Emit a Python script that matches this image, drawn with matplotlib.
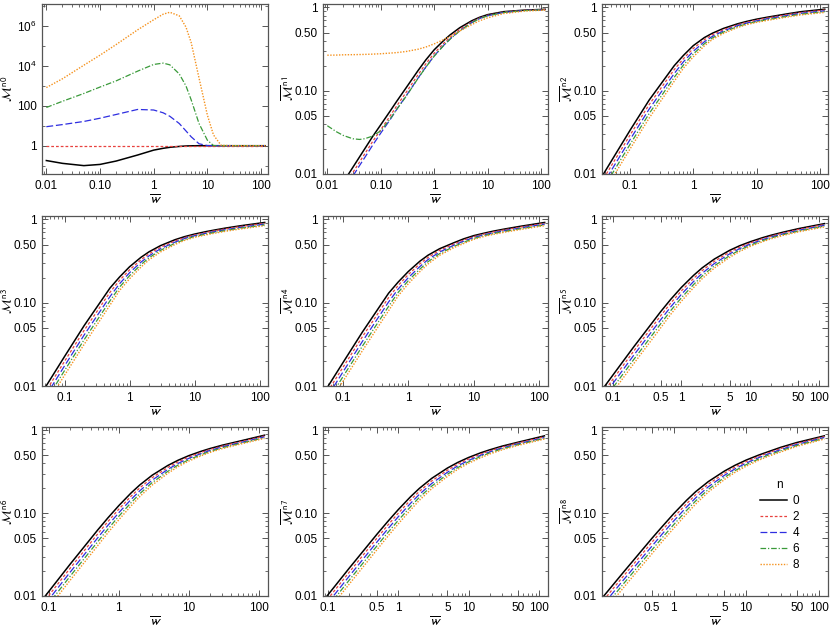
import numpy as np
import matplotlib.pyplot as plt
from matplotlib.ticker import FixedLocator, FixedFormatter, NullFormatter

plt.rcParams['font.family'] = ['Liberation Sans', 'DejaVu Sans']
plt.rcParams['mathtext.fontset'] = 'stixsans'

# legend values of n and line styles
n_values = [0, 2, 4, 6, 8]
colors = ['#000000', '#e8413f', '#2e2ee0', '#3a9a3a', '#f5921e']
dash_styles = [None, (2.2, 1.6), (5.5, 2.2), (4.5, 1.5, 1.0, 1.5), (1.0, 1.1)]
line_widths = [1.1, 0.9, 0.9, 0.9, 1.0]

# panel n0 (own grid)
w0 = [0.01, 0.02, 0.05, 0.1, 0.2, 0.5, 1, 1.5, 2, 3, 4, 5, 7, 10, 13, 18, 30, 120]
m0 = [
    [0.18, 0.13, 0.10, 0.115, 0.17, 0.34, 0.6, 0.74, 0.83, 0.92, 0.97, 0.99, 1, 1, 1, 1, 1, 1],
    [1, 1, 1, 1, 1, 1, 1, 1, 1, 1, 1, 1, 1, 1, 1, 1, 1, 1],
    [9, 11.5, 16.5, 24, 37, 66, 62, 45, 30, 13, 5.5, 2.8, 1.25, 1.02, 1, 1, 1, 1],
    [83, 170, 420, 880, 1800, 5500, 12000, 14000, 11500, 4000, 1000, 200, 13, 1.9, 1.02, 1, 1, 1],
    [830, 2300, 11000, 35000, 1.2e5, 6.5e5, 2.1e6, 4e6, 5e6, 3.3e6, 9e5, 1.5e5, 2500, 35, 3.5, 1.05, 1, 1],
]

# panel n1 (own grid)
w1 = [0.01, 0.015, 0.02, 0.03, 0.04, 0.05, 0.07, 0.1, 0.15, 0.2, 0.3, 0.5, 0.7,
      1, 1.5, 2, 3, 5, 7, 10, 20, 50, 120]
m1 = [
    [0.004, 0.006, 0.008, 0.012, 0.016, 0.02, 0.028, 0.039, 0.057, 0.075, 0.109, 0.175,
     0.235, 0.31, 0.40, 0.47, 0.57, 0.69, 0.76, 0.82, 0.89, 0.93, 0.95],
    [0.0035, 0.0052, 0.007, 0.0104, 0.0139, 0.0174, 0.0244, 0.034, 0.05, 0.066, 0.096, 0.156,
     0.211, 0.282, 0.37, 0.44, 0.545, 0.67, 0.745, 0.805, 0.88, 0.925, 0.945],
    [0.0031, 0.0047, 0.0063, 0.0094, 0.0126, 0.0157, 0.022, 0.031, 0.045, 0.06, 0.087, 0.142,
     0.193, 0.262, 0.35, 0.42, 0.525, 0.655, 0.735, 0.795, 0.872, 0.92, 0.94],
    [0.038, 0.032, 0.029, 0.0265, 0.026, 0.0265, 0.0285, 0.033, 0.046, 0.06, 0.086, 0.141,
     0.192, 0.26, 0.348, 0.418, 0.522, 0.652, 0.732, 0.792, 0.87, 0.918, 0.938],
    [0.267, 0.268, 0.27, 0.271, 0.272, 0.273, 0.275, 0.278, 0.283, 0.287, 0.296, 0.315,
     0.335, 0.365, 0.41, 0.45, 0.52, 0.62, 0.69, 0.75, 0.845, 0.905, 0.93],
]

# common grid for panels n2..n8
w = [0.01, 0.02, 0.05, 0.1, 0.2, 0.5, 0.7, 1, 1.5, 2, 3, 5, 7, 10, 15, 20, 30, 50, 120]
m2 = [
    [0.0019, 0.0045, 0.0141, 0.0335, 0.077, 0.2, 0.266, 0.348, 0.435, 0.49, 0.56, 0.636, 0.68, 0.723, 0.765, 0.794, 0.836, 0.889, 0.953],
    [0.00167, 0.00395, 0.01238, 0.0294, 0.068, 0.1796, 0.243, 0.322, 0.411, 0.469, 0.541, 0.619, 0.665, 0.707, 0.748, 0.777, 0.818, 0.869, 0.932],
    [0.00147, 0.00347, 0.01089, 0.0259, 0.060, 0.161, 0.223, 0.298, 0.388, 0.449, 0.523, 0.604, 0.649, 0.690, 0.731, 0.758, 0.798, 0.849, 0.910],
    [0.00129, 0.00305, 0.00956, 0.0227, 0.053, 0.145, 0.204, 0.276, 0.367, 0.430, 0.506, 0.588, 0.635, 0.675, 0.715, 0.742, 0.781, 0.830, 0.890],
    [0.00113, 0.00268, 0.0084, 0.0200, 0.0468, 0.130, 0.187, 0.255, 0.346, 0.412, 0.488, 0.574, 0.622, 0.662, 0.700, 0.727, 0.765, 0.813, 0.872],
]
m3 = [
    [0.00128, 0.00303, 0.0095, 0.0226, 0.053, 0.15, 0.203, 0.27, 0.351, 0.409, 0.485, 0.571, 0.621, 0.667, 0.714, 0.745, 0.788, 0.838, 0.92],
    [0.00112, 0.00266, 0.00834, 0.0198, 0.0465, 0.1334, 0.185, 0.248, 0.328, 0.387, 0.464, 0.552, 0.605, 0.652, 0.698, 0.729, 0.771, 0.820, 0.900],
    [0.00099, 0.00234, 0.00733, 0.01745, 0.0409, 0.1185, 0.1685, 0.229, 0.307, 0.366, 0.445, 0.534, 0.590, 0.637, 0.682, 0.711, 0.753, 0.800, 0.879],
    [0.00087, 0.00205, 0.00644, 0.01532, 0.0359, 0.1053, 0.1535, 0.211, 0.287, 0.347, 0.426, 0.517, 0.574, 0.623, 0.667, 0.696, 0.736, 0.783, 0.859],
    [0.00076, 0.00181, 0.00566, 0.01347, 0.0316, 0.0935, 0.140, 0.194, 0.268, 0.328, 0.407, 0.500, 0.560, 0.610, 0.653, 0.682, 0.721, 0.767, 0.842],
]
m4 = [
    [0.00107, 0.00253, 0.00796, 0.0189, 0.0446, 0.13, 0.177, 0.237, 0.315, 0.372, 0.445, 0.527, 0.585, 0.64, 0.69, 0.725, 0.77, 0.825, 0.92],
    [0.00094, 0.00222, 0.00699, 0.0166, 0.0392, 0.1152, 0.161, 0.218, 0.293, 0.350, 0.425, 0.509, 0.566, 0.623, 0.675, 0.709, 0.753, 0.807, 0.900],
    [0.00083, 0.00195, 0.00615, 0.0146, 0.0344, 0.102, 0.146, 0.200, 0.272, 0.330, 0.406, 0.492, 0.549, 0.608, 0.659, 0.692, 0.735, 0.788, 0.879],
    [0.00073, 0.00172, 0.0054, 0.0128, 0.0302, 0.0904, 0.133, 0.184, 0.253, 0.311, 0.388, 0.476, 0.531, 0.592, 0.644, 0.677, 0.719, 0.771, 0.859],
    [0.00064, 0.00151, 0.00474, 0.01126, 0.0266, 0.0801, 0.121, 0.169, 0.236, 0.292, 0.371, 0.460, 0.514, 0.577, 0.631, 0.663, 0.705, 0.755, 0.842],
]
m5 = [
    [0.00102, 0.00221, 0.00616, 0.0134, 0.0291, 0.0783, 0.11, 0.153, 0.213, 0.262, 0.334, 0.425, 0.483, 0.54, 0.603, 0.646, 0.703, 0.775, 0.891],
    [0.00091, 0.00197, 0.00548, 0.01193, 0.0259, 0.070, 0.0992, 0.139, 0.1957, 0.243, 0.314, 0.405, 0.464, 0.523, 0.586, 0.630, 0.688, 0.758, 0.871],
    [0.00081, 0.00175, 0.00488, 0.01063, 0.0231, 0.0626, 0.0894, 0.1264, 0.1798, 0.2256, 0.295, 0.3855, 0.446, 0.5065, 0.570, 0.614, 0.671, 0.740, 0.851],
    [0.00072, 0.00156, 0.00435, 0.00946, 0.0205, 0.056, 0.0806, 0.1149, 0.1651, 0.2096, 0.277, 0.367, 0.429, 0.490, 0.555, 0.599, 0.657, 0.724, 0.832],
    [0.00064, 0.00139, 0.00387, 0.00843, 0.0183, 0.050, 0.0727, 0.1045, 0.1517, 0.1944, 0.2605, 0.350, 0.412, 0.475, 0.539, 0.585, 0.643, 0.709, 0.815],
]
m6 = [
    [0.000944, 0.00199, 0.00537, 0.01134, 0.024, 0.0628, 0.088, 0.1235, 0.176, 0.22, 0.288, 0.377, 0.436, 0.496, 0.56, 0.604, 0.663, 0.734, 0.875],
    [0.000844, 0.00178, 0.0048, 0.01014, 0.02146, 0.0563, 0.0794, 0.1119, 0.161, 0.2028, 0.269, 0.357, 0.417, 0.478, 0.543, 0.588, 0.647, 0.718, 0.856],
    [0.000755, 0.00159, 0.0043, 0.00907, 0.0192, 0.0505, 0.0715, 0.1014, 0.147, 0.1872, 0.251, 0.338, 0.399, 0.460, 0.526, 0.573, 0.632, 0.701, 0.836],
    [0.000675, 0.00142, 0.00384, 0.00811, 0.01716, 0.0453, 0.0645, 0.0919, 0.1343, 0.1727, 0.2347, 0.320, 0.3815, 0.443, 0.510, 0.557, 0.617, 0.686, 0.817],
    [0.000603, 0.00127, 0.00343, 0.00725, 0.01534, 0.0406, 0.0582, 0.0834, 0.1227, 0.1593, 0.219, 0.303, 0.365, 0.427, 0.494, 0.542, 0.603, 0.672, 0.801],
]
m7 = [
    [0.000886, 0.00186, 0.00493, 0.01033, 0.0216, 0.056, 0.0784, 0.1105, 0.1586, 0.1997, 0.264, 0.351, 0.41, 0.471, 0.538, 0.583, 0.646, 0.719, 0.86],
    [0.000793, 0.00166, 0.00441, 0.00925, 0.01933, 0.0503, 0.0707, 0.100, 0.1446, 0.1837, 0.2458, 0.331, 0.391, 0.452, 0.520, 0.566, 0.629, 0.703, 0.841],
    [0.00071, 0.00149, 0.00395, 0.00827, 0.0173, 0.0451, 0.0637, 0.0906, 0.132, 0.1691, 0.2289, 0.312, 0.3727, 0.434, 0.5025, 0.550, 0.614, 0.687, 0.821],
    [0.000635, 0.00133, 0.00353, 0.00741, 0.01549, 0.0405, 0.0575, 0.082, 0.1202, 0.1558, 0.213, 0.295, 0.3555, 0.417, 0.486, 0.535, 0.598, 0.672, 0.803],
    [0.000569, 0.00119, 0.00317, 0.00663, 0.01387, 0.0364, 0.0518, 0.0743, 0.1098, 0.1434, 0.1983, 0.278, 0.3387, 0.401, 0.469, 0.519, 0.583, 0.658, 0.787],
]
m8 = [
    [0.000805, 0.00168, 0.00442, 0.00922, 0.0192, 0.0498, 0.0697, 0.0989, 0.143, 0.1815, 0.241, 0.3225, 0.379, 0.4385, 0.505, 0.552, 0.625, 0.714, 0.86],
    [0.000721, 0.00151, 0.00396, 0.00826, 0.01724, 0.0447, 0.0629, 0.0894, 0.130, 0.1666, 0.2241, 0.304, 0.3604, 0.420, 0.487, 0.534, 0.605, 0.695, 0.841],
    [0.000646, 0.00135, 0.00355, 0.0074, 0.01548, 0.0401, 0.0567, 0.0807, 0.1184, 0.1528, 0.2085, 0.2867, 0.343, 0.403, 0.470, 0.518, 0.586, 0.677, 0.821],
    [0.000579, 0.00121, 0.00318, 0.00663, 0.0139, 0.0361, 0.0511, 0.0729, 0.1078, 0.1403, 0.1938, 0.2703, 0.3263, 0.386, 0.453, 0.501, 0.5675, 0.658, 0.803],
    [0.000519, 0.00108, 0.00285, 0.00595, 0.01248, 0.0324, 0.0461, 0.0659, 0.0981, 0.1287, 0.1803, 0.2548, 0.3108, 0.370, 0.437, 0.485, 0.549, 0.641, 0.787],
]

panels = [(w0, m0), (w1, m1), (w, m2), (w, m3), (w, m4), (w, m5), (w, m6), (w, m7), (w, m8)]
x_left = [0.0083, 0.0083, 0.036, 0.045, 0.05, 0.07, 0.08, 0.085, 0.102]
x_right = 135

# x tick sets
xt_wide = ([0.01, 0.1, 1, 10, 100], ['0.01', '0.10', '1', '10', '100'])
xt_dec = ([0.1, 1, 10, 100], ['0.1', '1', '10', '100'])
xt_fine = ([0.1, 0.5, 1, 5, 10, 50, 100], ['0.1', '0.5', '1', '5', '10', '50', '100'])
xt_fine8 = ([0.5, 1, 5, 10, 50, 100], ['0.5', '1', '5', '10', '50', '100'])
x_ticks = [xt_wide, xt_wide, xt_dec, xt_dec, xt_dec, xt_fine, xt_dec, xt_fine, xt_fine8]

y_major = [0.01, 0.05, 0.1, 0.5, 1]
y_labels = ['0.01', '0.05', '0.10', '0.50', '1']
y0_major = [1, 100, 1e4, 1e6]
y0_labels = ['1', '100', r'$\mathregular{10^4}$', r'$\mathregular{10^6}$']

minor_x = [k * 10.0 ** d for d in range(-3, 3) for k in range(2, 10)]
minor_y = [k * 10.0 ** d for d in range(-3, 1) for k in range(2, 10)]

# axes boxes in pixels (left, right) and (top, bottom) on the 830x632 canvas
cols = [(42, 268), (323, 548), (602, 828)]
rows = [(4, 174), (216, 386), (427, 596)]

frame_col = '#555555'
fig = plt.figure(figsize=(8.3, 6.32), dpi=100)

for i, (wx, series) in enumerate(panels):
    c0, c1 = cols[i % 3]
    r0, r1 = rows[i // 3]
    ax = fig.add_axes([c0 / 830, 1 - r1 / 632, (c1 - c0) / 830, (r1 - r0) / 632])
    for j, ys in enumerate(series):
        line, = ax.plot(wx, ys, color=colors[j], lw=line_widths[j], label=str(n_values[j]))
        if dash_styles[j] is not None:
            line.set_dashes(dash_styles[j])
    ax.set_xscale('log')
    ax.set_yscale('log')
    ax.set_xlim(x_left[i], x_right)
    if i == 0:
        ax.set_ylim(0.038, 1.3e7)
        ax.yaxis.set_major_locator(FixedLocator(y0_major))
        ax.yaxis.set_major_formatter(FixedFormatter(y0_labels))
        ax.yaxis.set_minor_locator(FixedLocator([0.1, 10, 1e3, 1e5, 1e7]))
    else:
        ax.set_ylim(0.01, 1.1)
        ax.yaxis.set_major_locator(FixedLocator(y_major))
        ax.yaxis.set_major_formatter(FixedFormatter(y_labels))
        ax.yaxis.set_minor_locator(FixedLocator(minor_y))
    ax.yaxis.set_minor_formatter(NullFormatter())
    ax.xaxis.set_major_locator(FixedLocator(x_ticks[i][0]))
    ax.xaxis.set_major_formatter(FixedFormatter(x_ticks[i][1]))
    ax.xaxis.set_minor_locator(FixedLocator(minor_x))
    ax.xaxis.set_minor_formatter(NullFormatter())
    ax.tick_params(which='both', direction='in', top=True, right=True,
                   color=frame_col, labelsize=8.5, pad=4)
    ax.tick_params(which='major', length=4, width=0.7)
    ax.tick_params(which='minor', length=2, width=0.6)
    for s in ax.spines.values():
        s.set_color(frame_col)
        s.set_linewidth(0.9)
    ax.set_xlabel(r'$\overline{w}$', fontsize=10, labelpad=1)
    ax.set_ylabel(r'$\overline{\mathcal{M}}^{\,\mathrm{n%d}}$' % i, fontsize=9)
    ax.yaxis.set_label_coords(-0.12, 0.5)
    if i == 8:
        ax.legend(title='n', loc='center right', bbox_to_anchor=(0.92, 0.42),
                  frameon=False, fontsize=8.5, title_fontsize=8.5, handlelength=2.3,
                  handletextpad=0.5, labelspacing=0.35)

fig.savefig('out.png', dpi=100)
